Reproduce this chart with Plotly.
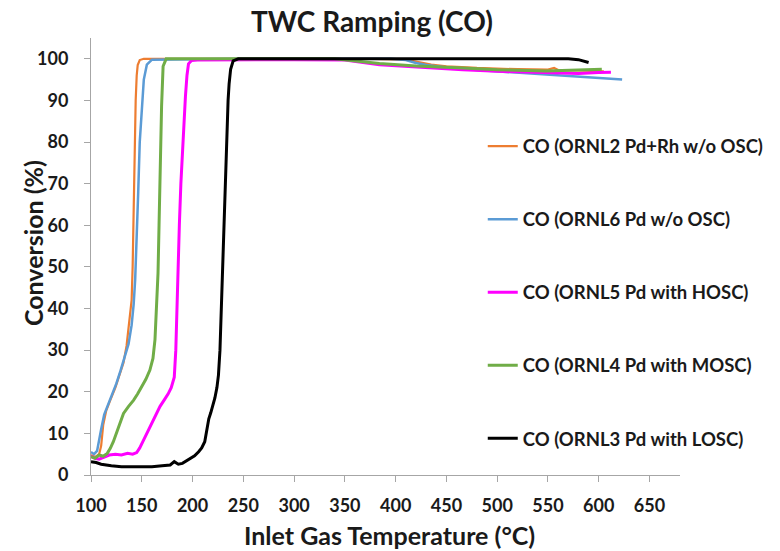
import plotly.graph_objects as go

# ---- data ----
names = [
    "CO (ORNL2 Pd+Rh w/o OSC)",
    "CO (ORNL6 Pd w/o OSC)",
    "CO (ORNL5 Pd with HOSC)",
    "CO (ORNL4 Pd with MOSC)",
    "CO (ORNL3 Pd with LOSC)",
]

orn2_x = [100, 104, 108, 110, 112, 115, 119, 124, 128, 132, 135, 137, 139, 140, 141, 142, 143, 144, 145, 146, 148, 152,
          200, 300, 380, 410, 425, 435, 450, 480, 520, 550, 556, 560, 580, 605]
orn2_y = [4.8, 4.3, 5.0, 7, 12, 15.5, 18, 21, 24, 27, 31, 35, 39, 42, 50, 65, 80, 90, 96, 98.5, 99.7, 100,
          100, 100, 100, 99.8, 99.0, 98.6, 98.2, 97.8, 97.5, 97.4, 97.8, 97.3, 97.2, 97.0]

orn6_x = [100, 103, 106, 108, 110, 113, 117, 121, 125, 129, 133, 137, 140, 142, 143.5, 145, 146.5, 148, 150, 152, 155, 160,
          250, 350, 395, 410, 420, 430, 450, 480, 510, 548, 580, 600, 623]
orn6_y = [5.5, 5.0, 5.8, 8, 11, 14.5, 17, 19.5, 22, 25, 28, 31.5, 36, 41, 47, 56, 68, 80, 89, 95, 98.6, 99.8,
          100, 100, 100, 99.7, 99.0, 98.5, 97.9, 97.3, 96.8, 96.2, 95.7, 95.4, 95.0]

orn5_x = [100, 104, 108, 113, 118, 124, 130, 136, 141, 145, 148, 152, 156, 160, 164, 168, 172, 176, 179, 182, 183.5,
          184.5, 185.5, 187, 188.5, 190, 191.5, 193, 194.5, 196, 199, 205,
          300, 350, 384, 420, 466, 500, 548, 580, 600, 612]
orn5_y = [4.5, 4.0, 3.8, 4.4, 4.8, 5.0, 4.8, 5.2, 5.0, 5.4, 6.5, 8.5, 10.5, 12.5, 14.5, 16.5, 18, 19.5, 21, 23.5, 30,
          40, 50, 60, 70, 78, 85, 91, 96, 98.8, 99.6, 99.7,
          99.8, 99.7, 98.6, 98.0, 97.4, 97.0, 96.6, 96.5, 96.7, 96.8]

orn4_x = [100, 104, 108, 112, 116, 119, 122, 125, 128, 132, 137, 142, 146, 150, 154, 158, 161, 163, 164.5, 166, 167, 168,
          169.5, 171, 174, 180, 250, 340, 384, 420, 466, 500, 548, 580, 603]
orn4_y = [4.4, 4.0, 4.8, 4.5, 5.2, 6.4, 8, 10, 12.5, 14.8, 16.5, 18, 19.5, 21.2, 23, 25.2, 28, 32.5, 40, 48.5, 60, 72.6,
          88.6, 98.2, 100, 100, 100, 100, 98.9, 98.3, 97.8, 97.4, 97.1, 97.3, 97.5]

orn3_x = [100, 105, 110, 115, 120, 130, 140, 150, 160, 170, 178, 182, 186, 190, 194, 198, 202, 206, 209, 212, 214, 216,
          218, 220, 222, 224, 225.5, 227, 228, 229, 230, 231, 232, 233, 234, 235, 236, 237.5, 240, 245,
          350, 450, 570, 580, 585, 590]
orn3_y = [3.2, 3.0, 2.6, 2.4, 2.2, 2.0, 2.0, 2.1, 2.0, 2.2, 2.4, 3.2, 2.6, 2.8, 3.4, 3.8, 4.6, 5.6, 6.5, 8, 11, 13.5,
          15, 16.5, 18.5, 21, 24, 30, 38, 46, 54, 62, 70, 78, 85, 90, 94, 97.5, 99.5, 100,
          100, 100, 100, 99.8, 99.5, 99.1]

x_ticks = [100, 150, 200, 250, 300, 350, 400, 450, 500, 550, 600, 650]
y_ticks = [0, 10, 20, 30, 40, 50, 60, 70, 80, 90, 100]

colors = ["#ED7D31", "#5B9BD5", "#FF00FF", "#70AD47", "#000000"]
widths = [2.2, 2.5, 3, 3, 3]
series = [(orn2_x, orn2_y), (orn6_x, orn6_y), (orn5_x, orn5_y), (orn4_x, orn4_y), (orn3_x, orn3_y)]

FONT = "Lato"
TXT = "#1a1a1a"
fig = go.Figure()
for i, (name, (xs, ys)) in enumerate(zip(names, series)):
    fig.add_trace(go.Scatter(
        x=xs, y=ys, mode="lines", name=name, legendgroup=f"g{i}",
        line=dict(color=colors[i], width=widths[i]),
    ))

axis_col = "#A6A6A6"
fig.update_layout(
    width=780, height=551,
    margin=dict(l=91, r=99, t=38, b=76),
    paper_bgcolor="white", plot_bgcolor="white",
    font=dict(family=FONT, color=TXT),
    title=dict(text="TWC Ramping (CO)", x=372 / 780, xref="container", xanchor="center",
               y=1 - 22 / 551, yref="container", yanchor="middle",
               font=dict(family=FONT, size=28, weight="bold", color=TXT)),
    xaxis=dict(range=[100, 680], tickvals=x_ticks, showgrid=False, zeroline=False,
               showline=True, linecolor=axis_col, linewidth=1,
               ticks="outside", ticklen=6, tickcolor=axis_col,
               ticklabelstandoff=8,
               tickfont=dict(family=FONT, size=18, weight="bold", color=TXT)),
    yaxis=dict(range=[0, 105], tickvals=y_ticks, showgrid=False, zeroline=False,
               showline=True, linecolor=axis_col, linewidth=1,
               ticks="outside", ticklen=6, tickcolor=axis_col,
               ticklabelstandoff=12,
               tickfont=dict(family=FONT, size=18, weight="bold", color=TXT)),
    legend=dict(x=0.664, y=0.795, xanchor="left", yanchor="top", bgcolor="rgba(0,0,0,0)",
                tracegroupgap=46, font=dict(family=FONT, size=18.5, weight="bold", color=TXT)),
    annotations=[
        dict(text="Conversion (%)", textangle=-90, x=(33 - 91) / 590, y=(475 - 243) / 437,
             xref="paper", yref="paper", showarrow=False, xanchor="center", yanchor="middle",
             font=dict(family=FONT, size=25, weight="bold", color=TXT)),
        dict(text="Inlet Gas Temperature (°C)", x=(390 - 91) / 590, y=(475 - 535) / 437,
             xref="paper", yref="paper", showarrow=False, xanchor="center", yanchor="middle",
             font=dict(family=FONT, size=25, weight="bold", color=TXT)),
    ],
)

fig.write_html("out.html", config={"displayModeBar": False},
               post_script="document.body.style.margin='0';")
